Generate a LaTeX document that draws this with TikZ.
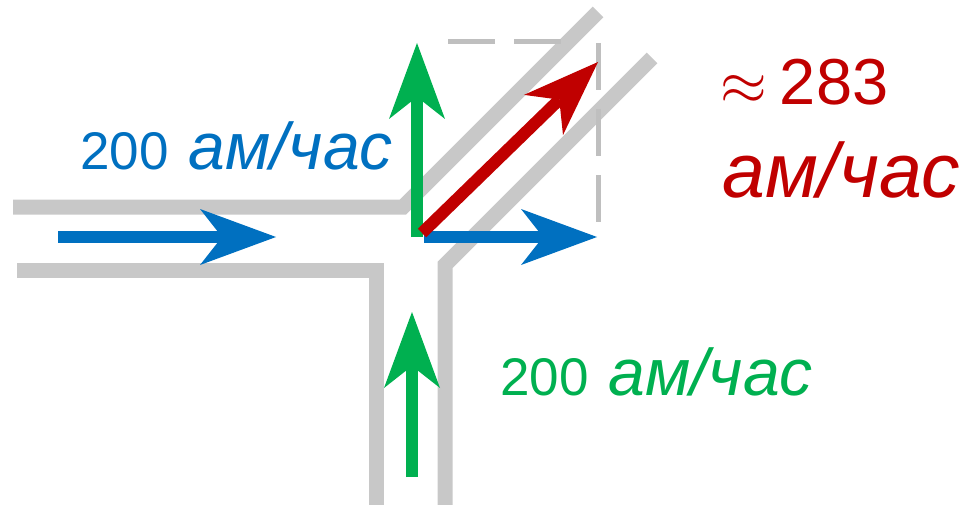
\RequirePackage{fix-cm}
\documentclass[tikz,border=0pt]{standalone}
\usepackage{fontspec}
\setmainfont{Liberation Sans}
\usepackage{tikz}
\usetikzlibrary{arrows.meta}
\definecolor{roadgray}{RGB}{200,200,200}
\definecolor{dashgray}{RGB}{191,191,191}
\definecolor{flowblue}{RGB}{0,112,192}
\definecolor{flowgreen}{RGB}{0,176,80}
\definecolor{flowred}{RGB}{192,0,0}
\newcommand{\unitrate}[1]{{\fontsize{#1}{#1}\selectfont\itshape ам/час}}
\tikzset{
  road/.style={draw=roadgray, line width=15pt},
  frame/.style={draw=dashgray, line width=5pt, dash pattern=on 47pt off 19pt},
  flow/.style={line width=12pt, -{Stealth[length=76pt, width=56pt, inset=22pt, line width=0pt]}},
  rate/.style={inner sep=0pt, anchor=base west, font=\fontsize{53}{60}\selectfont},
  result/.style={inner sep=0pt, anchor=base west, font=\fontsize{60}{70}\selectfont, text=flowred}
}
\begin{document}
\begin{tikzpicture}[x=1pt,y=-1pt]
  \useasboundingbox (0,0) rectangle (965,505);

  % roads
  \draw[road] (13,207) -- (403,207) -- (598,12);
  \draw[road] (17,270) -- (376,270) -- (376,505);
  \draw[road] (445,505) -- (445,265) -- (652,58);

  % frame of the sum
  \draw[frame] (448,42) -- (561,42);
  \draw[frame] (598,43) -- (598,222);

  % flow points
  \coordinate (westin) at (58,237);
  \coordinate (westend) at (276,237);
  \coordinate (southin) at (412,477);
  \coordinate (southend) at (412,312);
  \coordinate (core) at (417,237);
  \coordinate (eastout) at (424,237);
  \coordinate (easttip) at (597,237);
  \coordinate (northtip) at (417,43);
  \coordinate (diagout) at (422,233);
  \coordinate (diagtip) at (598,62);

  % flows
  \draw[flow, flowblue] (westin) -- (westend);
  \draw[flow, flowgreen] (southin) -- (southend);
  \draw[flow, flowgreen] (core) -- (northtip);
  \draw[flow, flowblue] (eastout) -- (easttip);
  \draw[flow, flowred] (diagout) -- (diagtip);

  % labels
  \node[rate, text=flowblue] (westrate) at (80,169) {200\hspace{20pt}\unitrate{66}};
  \node[rate, text=flowgreen] (southrate) at (500,395) {200\hspace{20pt}\unitrate{66}};
  \node[result] (sumvalue) at (720,105) {$\approx$\hspace{13pt}{\fontsize{65}{70}\selectfont 283}};
  \node[result] (sumunit) at (722,197) {\unitrate{77}};
\end{tikzpicture}
\end{document}
